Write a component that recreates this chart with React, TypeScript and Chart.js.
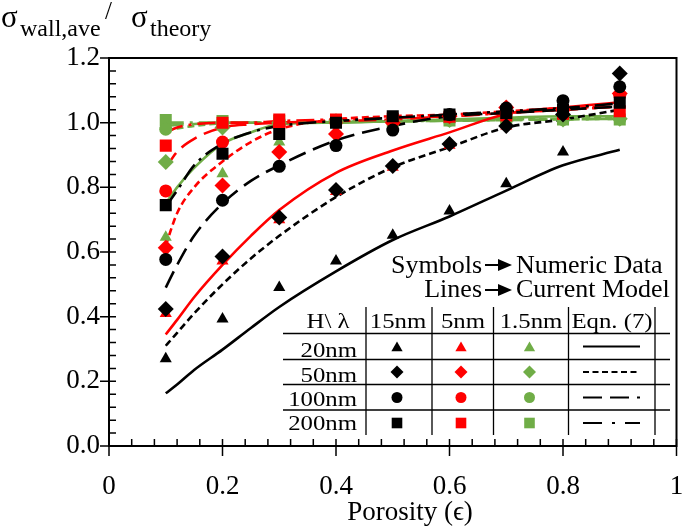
import React, { useEffect, useRef } from "react";
import { Chart, registerables } from "chart.js";

Chart.register(...registerables);

// ---------- data ----------
const POROSITY = [0.1, 0.2, 0.3, 0.4, 0.5, 0.6, 0.7, 0.8, 0.9];

// numeric data (symbols)
const TRI_15 = [0.27, 0.393, 0.49, 0.572, 0.652, 0.727, 0.811, 0.909, null];
const TRI_5 = [0.41, 0.572, 0.7, 0.787, 0.862, 0.93, 0.99, 1.02, 1.06];
const TRI_1_5 = [0.646, 0.842, 0.94, 1.0, 1.005, 1.008, 1.01, 1.01, 1.012];
const DIA_15 = [0.424, 0.586, 0.707, 0.792, 0.866, 0.934, 0.99, 1.025, 1.152];
const DIA_5 = [0.613, 0.806, 0.909, 0.965, 1.0, 1.02, 1.047, 1.04, 1.09];
const DIA_1_5 = [0.878, 0.985, 1.0, 1.004, 1.005, 1.008, 1.01, 1.01, 1.012];
const CIR_15 = [0.577, 0.76, 0.865, 0.929, 0.977, 1.025, 1.045, 1.068, 1.111];
const CIR_5 = [0.789, 0.94, 0.99, 1.0, 1.01, 1.02, 1.03, 1.04, 1.085];
const CIR_1_5 = [0.98, 1.0, 1.004, 1.005, 1.006, 1.008, 1.01, 1.01, 1.012];
const SQ_15 = [0.745, 0.904, 0.965, 1.0, 1.02, 1.025, 1.03, 1.04, 1.062];
const SQ_5 = [0.929, 1.0, 1.01, 1.01, 1.012, 1.018, 1.022, 1.028, 1.035];
const SQ_1_5 = [1.008, 1.005, 1.005, 1.005, 1.005, 1.007, 1.008, 1.01, 1.01];

// current model (lines)
const MODEL_X = [0.1, 0.12, 0.15, 0.2, 0.25, 0.3, 0.4, 0.5, 0.6, 0.7, 0.8, 0.9];
const L20_15 = [0.163, 0.19, 0.235, 0.298, 0.365, 0.43, 0.54, 0.637, 0.71, 0.79, 0.868, 0.916];
const L50_15 = [0.31, 0.35, 0.41, 0.5, 0.58, 0.65, 0.77, 0.862, 0.924, 0.985, 1.01, 1.04];
const L100_15 = [0.49, 0.56, 0.65, 0.75, 0.82, 0.868, 0.945, 0.99, 1.02, 1.03, 1.04, 1.05];
const L200_15 = [0.74, 0.79, 0.868, 0.935, 0.97, 0.99, 1.005, 1.015, 1.025, 1.035, 1.045, 1.06];
const L20_5 = [0.345, 0.39, 0.46, 0.56, 0.65, 0.73, 0.845, 0.914, 0.97, 1.027, 1.047, 1.063];
const L50_5 = [0.62, 0.72, 0.8, 0.88, 0.94, 0.98, 1.01, 1.02, 1.025, 1.035, 1.045, 1.05];
const L100_5 = [0.86, 0.91, 0.95, 0.985, 0.995, 1.0, 1.005, 1.01, 1.02, 1.03, 1.04, 1.05];
const L200_5 = [0.97, 0.985, 0.995, 1.0, 1.0, 1.005, 1.01, 1.015, 1.02, 1.03, 1.04, 1.05];
const L20_1_5 = [0.75, 0.8, 0.86, 0.935, 0.97, 0.995, 1.0, 1.005, 1.01, 1.015, 1.02, 1.02];
const L50_1_5 = [0.975, 0.982, 0.99, 0.998, 1.0, 1.0, 1.003, 1.005, 1.008, 1.01, 1.012, 1.015];
const L100_1_5 = [0.99, 0.993, 0.996, 1.0, 1.0, 1.0, 1.002, 1.004, 1.006, 1.008, 1.01, 1.012];
const L200_1_5 = [1.0, 1.0, 1.0, 1.0, 1.0, 1.0, 1.002, 1.004, 1.006, 1.008, 1.01, 1.012];

const X_TICKS = [0, 0.2, 0.4, 0.6, 0.8, 1];
const X_TICK_LABELS = ["0", "0.2", "0.4", "0.6", "0.8", "1"];
const Y_TICKS = [0, 0.2, 0.4, 0.6, 0.8, 1.0, 1.2];
const H_LABELS = ["20nm", "50nm", "100nm", "200nm"];
const LAMBDA_LABELS = ["15nm", "5nm", "1.5nm", "Eqn. (7)"];

// ---------- styles ----------
const BLACK = "#000000";
const RED = "#ff0000";
const GREEN = "#70ad47";
const SERIF = "'Liberation Serif', 'Times New Roman', serif";
const SHAPES = ["triangle", "rectRot", "circle", "rect"];
const RADII = [7, 8, 6.5, 8.5];
const DASHES: number[][] = [[], [7, 4], [18, 8], [18, 6, 3, 6]];

const pts = (xs: number[], ys: (number | null)[]) =>
  xs.map((x, i) => ({ x, y: ys[i] }));

const markerSets: [string, (number | null)[], number][] = [
  [BLACK, DIA_15, 1], [BLACK, CIR_15, 2], [BLACK, SQ_15, 3], [BLACK, TRI_15, 0],
  [RED, DIA_5, 1], [RED, CIR_5, 2], [RED, SQ_5, 3], [RED, TRI_5, 0],
  [GREEN, DIA_1_5, 1], [GREEN, CIR_1_5, 2], [GREEN, SQ_1_5, 3], [GREEN, TRI_1_5, 0],
];
const lineSets: [string, number[], number][] = [
  [BLACK, L20_15, 0], [BLACK, L50_15, 1], [BLACK, L100_15, 2], [BLACK, L200_15, 3],
  [RED, L20_5, 0], [RED, L50_5, 1], [RED, L100_5, 2], [RED, L200_5, 3],
  [GREEN, L20_1_5, 0], [GREEN, L50_1_5, 1], [GREEN, L100_1_5, 2], [GREEN, L200_1_5, 3],
];

function drawShape(ctx: CanvasRenderingContext2D, shape: number, x: number, y: number, r: number) {
  ctx.beginPath();
  if (shape === 0) {
    ctx.moveTo(x, y - r);
    ctx.lineTo(x + r * 0.866, y + r * 0.5);
    ctx.lineTo(x - r * 0.866, y + r * 0.5);
    ctx.closePath();
  } else if (shape === 1) {
    ctx.moveTo(x, y - r);
    ctx.lineTo(x + r, y);
    ctx.lineTo(x, y + r);
    ctx.lineTo(x - r, y);
    ctx.closePath();
  } else if (shape === 2) {
    ctx.arc(x, y, r, 0, Math.PI * 2);
  } else {
    ctx.rect(x - r, y - r, 2 * r, 2 * r);
  }
  ctx.fill();
}

function sText(ctx: CanvasRenderingContext2D, s: string, x: number, y: number, align: CanvasTextAlign, size: number, sx: number) {
  ctx.save();
  ctx.translate(x, y);
  ctx.scale(sx, 1);
  ctx.font = `${size}px ${SERIF}`;
  ctx.textAlign = align;
  ctx.textBaseline = "alphabetic";
  ctx.fillStyle = BLACK;
  ctx.fillText(s, 0, 0);
  ctx.restore();
}

function arrow(ctx: CanvasRenderingContext2D, x0: number, x1: number, y: number) {
  ctx.save();
  ctx.strokeStyle = BLACK;
  ctx.fillStyle = BLACK;
  ctx.lineWidth = 2;
  ctx.beginPath();
  ctx.moveTo(x0, y);
  ctx.lineTo(x1 - 10, y);
  ctx.stroke();
  ctx.beginPath();
  ctx.moveTo(x1 - 14, y - 6);
  ctx.lineTo(x1, y);
  ctx.lineTo(x1 - 14, y + 6);
  ctx.closePath();
  ctx.fill();
  ctx.restore();
}

const framePlugin = {
  id: "frameTicks",
  afterDatasetsDraw(chart: any) {
    const ctx: CanvasRenderingContext2D = chart.ctx;
    const xs = chart.scales.x;
    const ys = chart.scales.y;
    const { left, right, top, bottom } = chart.chartArea;
    ctx.save();
    ctx.strokeStyle = BLACK;
    ctx.lineWidth = 2;
    ctx.beginPath();
    ctx.rect(left, top, right - left, bottom - top);
    ctx.stroke();
    ctx.lineWidth = 1.5;
    ctx.beginPath();
    for (let i = 0; i <= 30; i++) {
      const v = i * 0.04;
      const py = ys.getPixelForValue(v);
      const major = i % 5 === 0;
      ctx.moveTo(left - (major ? 9 : 0), py);
      ctx.lineTo(left + 7, py);
    }
    for (let i = 0; i <= 25; i++) {
      const v = i * 0.04;
      const px = xs.getPixelForValue(v);
      const major = i % 5 === 0;
      ctx.moveTo(px, bottom - 7);
      ctx.lineTo(px, bottom + (major ? 10 : 0));
    }
    ctx.stroke();
    // x tick labels, placed through the x scale
    ctx.fillStyle = BLACK;
    ctx.font = `27px ${SERIF}`;
    ctx.textAlign = "center";
    ctx.textBaseline = "alphabetic";
    X_TICKS.forEach((v, i) => {
      ctx.fillText(X_TICK_LABELS[i], xs.getPixelForValue(v), 494);
    });
    ctx.restore();
  },
  afterDraw(chart: any) {
    const ctx: CanvasRenderingContext2D = chart.ctx;
    ctx.save();
    ctx.fillStyle = BLACK;
    // y-axis title
    ctx.textBaseline = "alphabetic";
    ctx.textAlign = "left";
    ctx.font = `31px ${SERIF}`;
    ctx.fillText("σ", 1, 27);
    ctx.font = `24px ${SERIF}`;
    ctx.fillText("wall,ave", 20, 36);
    ctx.font = `25px ${SERIF}`;
    ctx.fillText("/", 105, 19);
    ctx.font = `31px ${SERIF}`;
    ctx.fillText("σ", 131, 27);
    ctx.font = `24px ${SERIF}`;
    ctx.fillText("theory", 150, 36);
    // x-axis title
    ctx.font = `27px ${SERIF}`;
    ctx.textAlign = "center";
    ctx.fillText("Porosity (ϵ)", 410, 520);

    // legend notes
    sText(ctx, "Symbols", 482, 273, "right", 26, 1);
    arrow(ctx, 485, 512, 265);
    sText(ctx, "Numeric Data", 516, 273, "left", 26, 1);
    sText(ctx, "Lines", 482, 297, "right", 26, 1);
    arrow(ctx, 485, 512, 290);
    sText(ctx, "Current Model", 516, 297, "left", 26, 1);

    // table
    const SX = 1.18;
    const FS = 21;
    sText(ctx, "H\\ λ", 328, 328, "center", FS, SX);
    const colC = [398, 463, 531, 612];
    LAMBDA_LABELS.forEach((s, i) => sText(ctx, s, colC[i], 328, "center", FS, SX));
    const rowBase = [357, 381.5, 405.5, 430];
    H_LABELS.forEach((s, i) => sText(ctx, s, 357, rowBase[i], "right", FS, SX));

    ctx.strokeStyle = BLACK;
    ctx.lineWidth = 1.3;
    ctx.beginPath();
    [333.5, 359.5, 384.5, 410].forEach((y) => {
      ctx.moveTo(283, y);
      ctx.lineTo(670, y);
    });
    [366, 432, 493.5, 568.5, 655].forEach((x) => {
      ctx.moveTo(x, 307);
      ctx.lineTo(x, 435);
    });
    ctx.stroke();

    const rowC = [346.5, 372, 397.5, 423];
    const colors = [BLACK, RED, GREEN];
    const symX = [397, 461, 529.5];
    const legR = [6.5, 6.5, 5.5, 5.3];
    rowC.forEach((y, r) => {
      colors.forEach((c, k) => {
        ctx.fillStyle = c;
        const yy = r === 0 ? y + 1.5 : y;
        drawShape(ctx, r, symX[k], yy, legR[r]);
      });
      ctx.save();
      ctx.strokeStyle = BLACK;
      ctx.lineWidth = 2;
      ctx.setLineDash(r === 1 ? [6, 3.5] : r === 2 ? [19, 8] : r === 3 ? [19, 10, 3, 10] : []);
      ctx.beginPath();
      ctx.moveTo(583, y);
      ctx.lineTo(640, y);
      ctx.stroke();
      ctx.restore();
    });
    ctx.restore();
  },
};

export default function App() {
  const ref = useRef<HTMLCanvasElement | null>(null);

  useEffect(() => {
    if (!ref.current) return;
    const datasets: any[] = [];
    markerSets.forEach(([color, vals, shape]) => {
      datasets.push({
        data: pts(POROSITY, vals),
        showLine: false,
        pointStyle: SHAPES[shape],
        pointRadius: RADII[shape],
        pointBackgroundColor: color,
        pointBorderColor: color,
        pointBorderWidth: 0,
        order: 0,
      });
    });
    lineSets.forEach(([color, vals, style]) => {
      datasets.push({
        data: pts(MODEL_X, vals),
        showLine: true,
        borderColor: color,
        borderWidth: 2.6,
        borderDash: DASHES[style],
        pointRadius: 0,
        cubicInterpolationMode: "monotone",
        fill: false,
        order: 1,
      });
    });

    const chart = new Chart(ref.current, {
      type: "scatter",
      data: { datasets },
      options: {
        animation: false,
        responsive: false,
        devicePixelRatio: 1,
        layout: { padding: { left: 0, top: 58, right: 6, bottom: 0 } },
        plugins: { legend: { display: false }, tooltip: { enabled: false } },
        scales: {
          x: {
            type: "linear",
            min: 0,
            max: 1,
            afterFit: (s: any) => { s.height = 85; },
            afterBuildTicks: (s: any) => { s.ticks = X_TICKS.map((v) => ({ value: v })); },
            grid: { display: false, drawTicks: false },
            border: { display: false },
            ticks: { display: false },
          },
          y: {
            type: "linear",
            min: 0,
            max: 1.2,
            afterFit: (s: any) => { s.width = 109; },
            afterBuildTicks: (s: any) => { s.ticks = Y_TICKS.map((v) => ({ value: v })); },
            grid: { display: false, drawTicks: false },
            border: { display: false },
            ticks: {
              padding: 9,
              autoSkip: false,
              color: BLACK,
              font: { family: SERIF, size: 27 },
              callback: (v: any) => Number(v).toFixed(1),
            },
          },
        },
      },
      plugins: [framePlugin],
    });
    return () => chart.destroy();
  }, []);

  return (
    <div style={{ position: "absolute", left: 0, top: 0, width: 685, height: 531, background: "#fff" }}>
      <canvas ref={ref} width={685} height={531} style={{ width: 685, height: 531, display: "block" }} />
    </div>
  );
}
